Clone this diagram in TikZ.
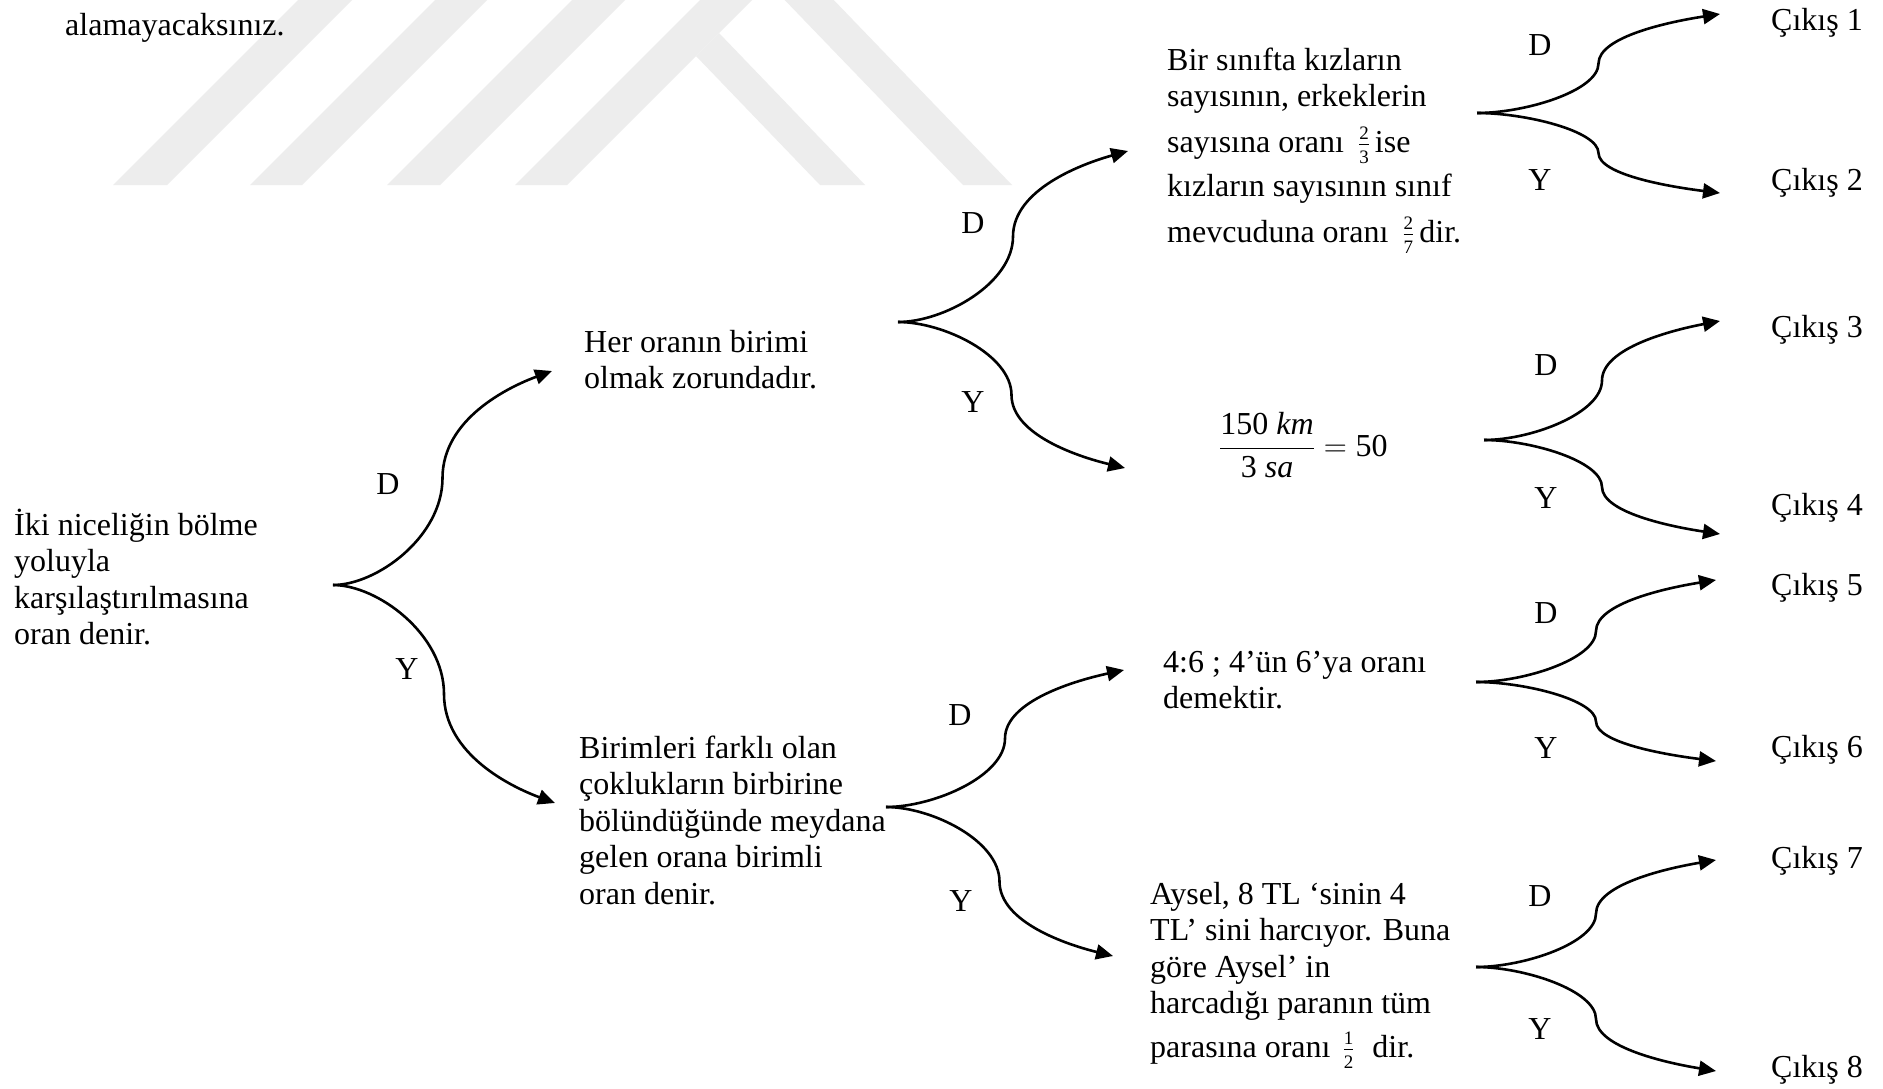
\RequirePackage{fix-cm}
\documentclass[tikz,border=0pt]{standalone}
\usepackage{fontspec}
\setmainfont{Liberation Serif}
\usetikzlibrary{arrows.meta,calc}

% one paragraph of text, its baseline is the baseline of its first line
\newcommand\lines[1]{\parbox[t]{420pt}{\fontsize{32}{36.5}\selectfont
  \lineskiplimit=-100pt\raggedright #1}}
% small inline fraction set with the text font
\newcommand\smfrac[2]{$\frac{\mbox{\fontsize{19}{19}\selectfont #1}}{\mbox{\fontsize{19}{19}\selectfont #2}}$}

\tikzset{
  conn/.style={line width=2.6pt, -{Triangle[length=17pt,width=15pt]}},
  para/.style={anchor=base west, inner sep=0pt},
  lbl/.style={anchor=base, inner sep=0pt, font=\fontsize{32}{36.5}\selectfont},
  exitlbl/.style={anchor=base west, inner sep=0pt, font=\fontsize{32}{36.5}\selectfont},
  wmark/.style={fill=black!7, draw=none}
}

% S-shaped branch of a fork: leaves the fork point horizontally,
% turns vertical half-way and ends horizontally in an arrow head
\newcommand\branch[2]{%
  \draw[conn] let \p1=(#1), \p2=(#2),
      \n1={0.5*(\x2-\x1)}, \n2={0.5*(\y2-\y1)} in
    (#1) .. controls ([xshift={0.4*\n1}]#1)
              and ([yshift={-0.55*\n2}]$(#1)!0.5!(#2)$) .. ($(#1)!0.5!(#2)$)
         .. controls ([yshift={0.55*\n2}]$(#1)!0.5!(#2)$)
              and ([xshift={-0.4*\n1},yshift={-0.15*\n2}]#2) .. (#2);}

\begin{document}
\begin{tikzpicture}[x=1pt,y=-1pt]
\fill[white] (0,0) rectangle (1883,1088);
\useasboundingbox (0,0) rectangle (1883,1088);

% faint logo stripes in the page background
\begin{scope}
  \clip (0,0) rectangle (1883,1088);
  \fill[wmark] (113,185) -- (167,185) -- (360,-8) -- (306,-8) -- cycle;
  \fill[wmark] (250,185) -- (302,185) -- (495,-8) -- (443,-8) -- cycle;
  \fill[wmark] (387,185) -- (440,185) -- (633,-8) -- (580,-8) -- cycle;
  \fill[wmark] (515,185) -- (567,185) -- (760,-8) -- (708,-8) -- cycle;
  \fill[wmark] (820,185) -- (865,185) -- (719,33) -- (696,56) -- cycle;
  \fill[wmark] (963,185) -- (1012,185) -- (826,-8) -- (777,-8) -- cycle;
\end{scope}

% text
\node[para] (prev) at (65,35) {\lines{alamayacaksınız.}};
\node[para] (root) at (14,535)
  {\lines{İki niceliğin bölme\\yoluyla\\karşılaştırılmasına\\oran denir.}};
\node[para] (her) at (584,352) {\lines{Her oranın birimi\\olmak zorundadır.}};
\node[para] (birim) at (579,758)
  {\lines{Birimleri farklı olan\\çoklukların birbirine\\bölündüğünde meydana\\gelen orana birimli\\oran denir.}};
\node[para] (bir) at (1167,70)
  {\lines{Bir sınıfta kızların\\sayısının, erkeklerin\\[9.5pt]sayısına
   oranı\hspace{14pt}\smfrac{2}{3}\hspace{5pt}ise\\[7.5pt]kızların sayısının sınıf\\[9.5pt]mevcuduna
   oranı\hspace{14pt}\smfrac{2}{7}\hspace{5pt}dir.}};
\node[para] (kmh) at (1219,456)
  {\fontsize{32}{36.5}\selectfont
   $\displaystyle\frac{\mbox{150 \textit{km}}}{\mbox{3 \textit{sa}}}=\mbox{50}$};
\node[para] (oran) at (1163,672) {\lines{4:6 ; 4’ün 6’ya oranı\\demektir.}};
\node[para] (aysel) at (1150,904)
  {\lines{Aysel, 8 TL ‘sinin 4\\TL’ sini harcıyor. Buna\\göre Aysel’ in\\harcadığı paranın tüm\\[7.5pt]parasına
   oranı\hspace{12pt}\smfrac{1}{2}\hspace{18pt}dir.}};

% outputs
\node[exitlbl] (c1) at (1771,30) {Çıkış 1};
\node[exitlbl] (c2) at (1771,190) {Çıkış 2};
\node[exitlbl] (c3) at (1771,337) {Çıkış 3};
\node[exitlbl] (c4) at (1771,515) {Çıkış 4};
\node[exitlbl] (c5) at (1771,595) {Çıkış 5};
\node[exitlbl] (c6) at (1771,757) {Çıkış 6};
\node[exitlbl] (c7) at (1771,868) {Çıkış 7};
\node[exitlbl] (c8) at (1771,1077) {Çıkış 8};

% D / Y labels
\node[lbl] (d0) at (388,494) {D};   \node[lbl] (y0) at (407,679) {Y};
\node[lbl] (d1) at (973,233) {D};   \node[lbl] (y1) at (973,412) {Y};
\node[lbl] (d2) at (960,725) {D};   \node[lbl] (y2) at (961,911) {Y};
\node[lbl] (da) at (1540,55) {D};   \node[lbl] (ya) at (1540,190) {Y};
\node[lbl] (db) at (1546,375) {D};  \node[lbl] (yb) at (1546,508) {Y};
\node[lbl] (dc) at (1546,623) {D};  \node[lbl] (yc) at (1546,758) {Y};
\node[lbl] (dd) at (1540,906) {D};  \node[lbl] (yd) at (1540,1039) {Y};

% fork points and arrow ends
\coordinate (f0) at (333,585);   \coordinate (t0u) at (552,371);  \coordinate (t0d) at (555,803);
\coordinate (f1) at (898,322);   \coordinate (t1u) at (1128,151); \coordinate (t1d) at (1125,468);
\coordinate (f2) at (886,807);   \coordinate (t2u) at (1124,670); \coordinate (t2d) at (1113,956);
\coordinate (fa) at (1477,113);  \coordinate (tau) at (1720,14);  \coordinate (tad) at (1720,193);
\coordinate (fb) at (1484,440);  \coordinate (tbu) at (1720,321); \coordinate (tbd) at (1720,534);
\coordinate (fc) at (1476,682);  \coordinate (tcu) at (1716,580); \coordinate (tcd) at (1716,761);
\coordinate (fd) at (1476,967);  \coordinate (tdu) at (1716,860); \coordinate (tdd) at (1716,1071);

% branches
\branch{f0}{t0u} \branch{f0}{t0d}
\branch{f1}{t1u} \branch{f1}{t1d}
\branch{f2}{t2u} \branch{f2}{t2d}
\branch{fa}{tau} \branch{fa}{tad}
\branch{fb}{tbu} \branch{fb}{tbd}
\branch{fc}{tcu} \branch{fc}{tcd}
\branch{fd}{tdu} \branch{fd}{tdd}
\end{tikzpicture}
\end{document}
